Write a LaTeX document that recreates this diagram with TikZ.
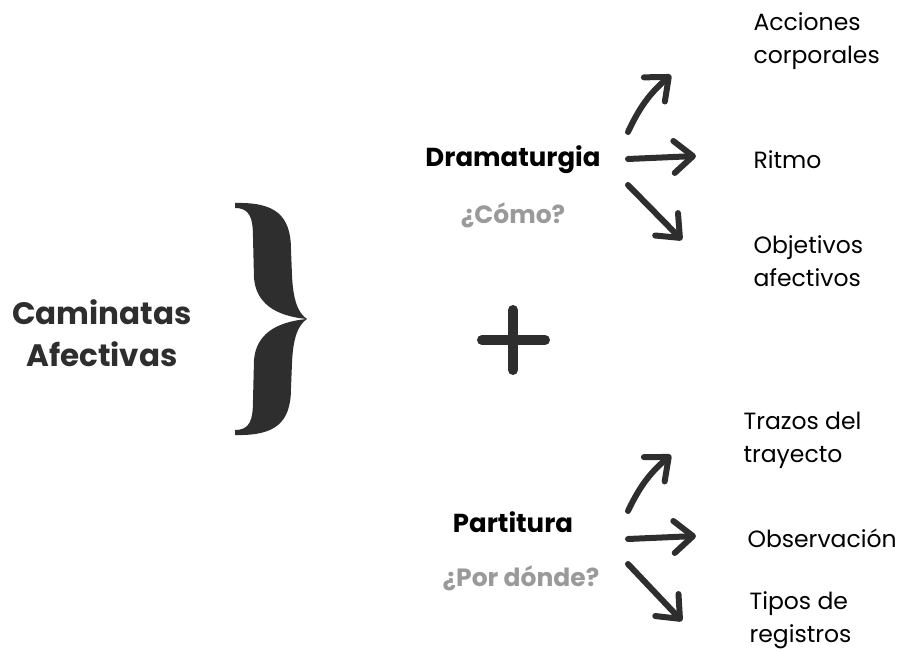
\documentclass[tikz,border=0pt]{standalone}
\usepackage{fontspec}
\setmainfont{Poppins}
\usetikzlibrary{arrows.meta}
\definecolor{ink}{HTML}{2E2E2E}
\definecolor{quiet}{HTML}{9A9A9A}
\tikzset{
  brush/.style={draw=ink,line width=6pt,line cap=round,
    -{Straight Barb[length=19pt,width=32pt,round]}},
  leaf/.style={anchor=west,align=left,font=\fontsize{23.5}{33}\selectfont},
  topic/.style={font=\fontsize{26}{28}\bfseries\selectfont},
  ask/.style={font=\fontsize{25}{28}\bfseries\selectfont,text=quiet}
}
\begin{document}
\begin{tikzpicture}[x=1pt,y=-1pt]
\useasboundingbox (0,0) rectangle (908,652);

\node[align=center,text=ink,font=\fontsize{31}{42}\bfseries\selectfont] (walks) at (102,333) {Caminatas\\Afectivas};

\fill[ink] (235,203) .. controls (275,202) and (291,215) .. (291,250) -- (292,275)
  .. controls (293,300) and (298,313) .. (307,319)
  .. controls (298,325) and (293,338) .. (292,363) -- (291,388)
  .. controls (291,423) and (275,436) .. (235,435) -- (235,430)
  .. controls (250,430) and (253,420) .. (253,400) -- (254,360)
  .. controls (256,335) and (275,322) .. (307,319)
  .. controls (275,316) and (256,303) .. (254,278) -- (253,238)
  .. controls (253,218) and (250,208) .. (235,208) -- cycle;

\node[topic] (drama) at (513,160) {Dramaturgia};
\node[ask] (how) at (513,215) {¿Cómo?};
\draw[ink,line width=10pt,line cap=round] (482,340) -- (545,340) (513,310) -- (513,370);
\node[topic] (score) at (513,522) {Partitura};
\node[ask] (where) at (521,578) {¿Por dónde?};

\node[leaf] (acts) at (750,41) {Acciones\\corporales};
\node[leaf] (rhythm) at (750,160) {Ritmo};
\node[leaf] (goals) at (750,261) {Objetivos\\afectivos};
\node[leaf] (lines) at (740,440) {Trazos del\\trayecto};
\node[leaf] (watch) at (744,538) {Observación};
\node[leaf] (kinds) at (746,620) {Tipos de\\registros};

\coordinate (d1) at (628,132); \coordinate (a1) at (671,75);
\coordinate (d2) at (628,159); \coordinate (a2) at (696,156);
\coordinate (d3) at (628,185); \coordinate (a3) at (682,240);
\coordinate (p1) at (628,511); \coordinate (b1) at (671,455);
\coordinate (p2) at (628,539); \coordinate (b2) at (696,536);
\coordinate (p3) at (628,564); \coordinate (b3) at (682,621);

\draw[brush] (d1) to[bend left=12] (a1);
\draw[brush] (d2) -- (a2);
\draw[brush] (d3) -- (a3);
\draw[brush] (p1) to[bend left=12] (b1);
\draw[brush] (p2) -- (b2);
\draw[brush] (p3) -- (b3);
\end{tikzpicture}
\end{document}
